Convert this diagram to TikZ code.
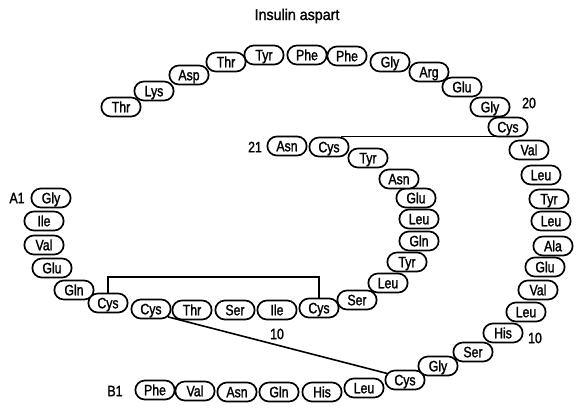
\documentclass[tikz,border=0pt]{standalone}
\usepackage{fontspec}
\setmainfont[FakeStretch=0.82, FakeBold=1.5]{Liberation Sans}
\newfontfamily\titlefont[FakeStretch=0.92, FakeBold=1.5]{Liberation Sans}
\usetikzlibrary{shapes.misc}
\begin{document}
\begin{tikzpicture}[
        x=1pt, y=-1pt,
        residue/.style={draw, fill=white, rounded rectangle, line width=1.7pt,
                        minimum width=39.3pt, minimum height=19pt, inner sep=0pt,
                        text height=10.5pt, text depth=0pt,
                        font=\fontsize{15}{17}\selectfont},
        tag/.style={font=\fontsize{15}{17}\selectfont},
        bond/.style={line width=1.6pt},
    ]
    \useasboundingbox (0,0) rectangle (583,415);
    \node[tag, font=\titlefont\fontsize{15.5}{17}\selectfont] (title) at (297,16) {Insulin aspart};

    % B chain
    \node[residue] (b1)  at (155,390) {Phe};
    \node[residue] (b2)  at (195,391) {Val};
    \node[residue] (b3)  at (237,392) {Asn};
    \node[residue] (b4)  at (279,392) {Gln};
    \node[residue] (b5)  at (322,392) {His};
    \node[residue] (b6)  at (364,388) {Leu};
    \node[residue] (b7)  at (405,380) {Cys};
    \node[residue] (b8)  at (438,366) {Gly};
    \node[residue] (b9)  at (473,352) {Ser};
    \node[residue] (b10) at (503,333) {His};
    \node[residue] (b11) at (526,312) {Leu};
    \node[residue] (b12) at (538,290) {Val};
    \node[residue] (b13) at (545,267) {Glu};
    \node[residue] (b14) at (553,246) {Ala};
    \node[residue] (b15) at (551,221) {Leu};
    \node[residue] (b16) at (549,199) {Tyr};
    \node[residue] (b17) at (541,175) {Leu};
    \node[residue] (b18) at (529,150) {Val};
    \node[residue] (b19) at (508,127) {Cys};
    \node[residue] (b20) at (490,107) {Gly};
    \node[residue] (b21) at (462,87)  {Glu};
    \node[residue] (b22) at (429,72)  {Arg};
    \node[residue] (b23) at (390,62)  {Gly};
    \node[residue] (b24) at (347,56)  {Phe};
    \node[residue] (b25) at (307,55)  {Phe};
    \node[residue] (b26) at (264,55)  {Tyr};
    \node[residue] (b27) at (226,62)  {Thr};
    \node[residue] (b28) at (189,75)  {Asp};
    \node[residue] (b29) at (154,91)  {Lys};
    \node[residue] (b30) at (121,107) {Thr};

    % A chain
    \node[residue] (a1)  at (51,198)  {Gly};
    \node[residue] (a2)  at (44,221)  {Ile};
    \node[residue] (a3)  at (44,245)  {Val};
    \node[residue] (a4)  at (52,268)  {Glu};
    \node[residue] (a5)  at (74,290)  {Gln};
    \node[residue] (a6)  at (108,303) {Cys};
    \node[residue] (a7)  at (151,309) {Cys};
    \node[residue] (a8)  at (192,310) {Thr};
    \node[residue] (a9)  at (235,310) {Ser};
    \node[residue] (a10) at (277,310) {Ile};
    \node[residue] (a11) at (319,308) {Cys};
    \node[residue] (a12) at (357,300) {Ser};
    \node[residue] (a13) at (388,283) {Leu};
    \node[residue] (a14) at (407,262) {Tyr};
    \node[residue] (a15) at (419,241) {Gln};
    \node[residue] (a16) at (419,219) {Leu};
    \node[residue] (a17) at (416,198) {Glu};
    \node[residue] (a18) at (399,179) {Asn};
    \node[residue] (a19) at (368,158) {Tyr};
    \node[residue] (a20) at (329,147) {Cys};
    \node[residue] (a21) at (287,146) {Asn};

    % numbering
    \node[tag] (lblA1)  at (17,198)  {A1};
    \node[tag] (lblB1)  at (115,391) {B1};
    \node[tag] (lblA21) at (255,147) {21};
    \node[tag] (lblB20) at (529,103) {20};
    \node[tag] (lblB10) at (535,338) {10};
    \node[tag] (lblA10) at (277,334) {10};

    % disulfide bonds
    \coordinate (bridge) at (0,277);
    \draw[bond] (a6.north) -- (a6.north |- bridge) -| (a11.north);
    \draw[bond] ([xshift=12pt]a20.north) -- ([xshift=12pt]a20.north -| b19.south west);
    \draw[bond] (a7.-25) -- (b7.160);
\end{tikzpicture}
\end{document}
